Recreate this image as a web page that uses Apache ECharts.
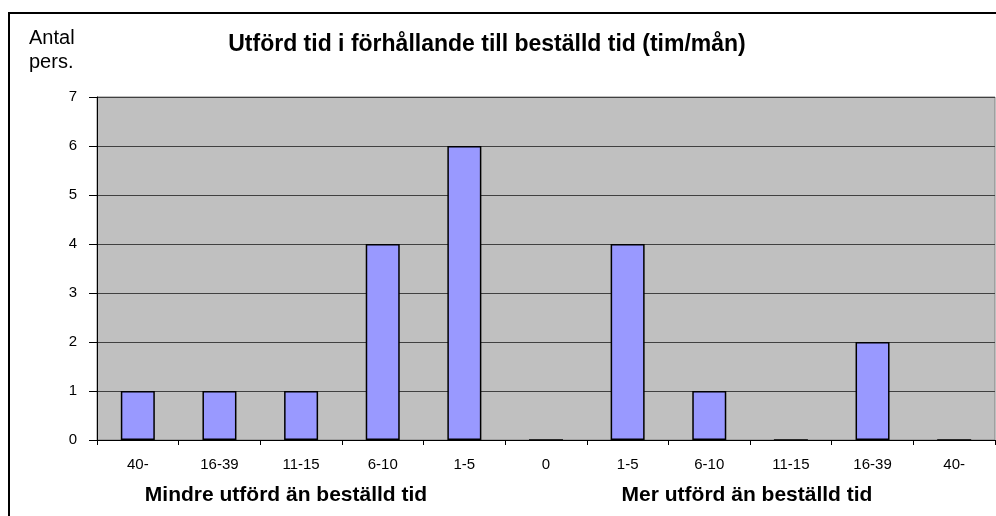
<!DOCTYPE html>
<html>
<head>
<meta charset="utf-8">
<script src="https://cdn.jsdelivr.net/npm/echarts@6/dist/echarts.min.js"></script>
<style>
  html, body { margin: 0; padding: 0; background: #fff; }
  #chart { width: 996px; height: 516px; }
</style>
</head>
<body>
<div id="chart"></div>
<script>
// kategorier (tim/mån), vänster halva = mindre, höger halva = mer
const categories = ['40-', '16-39', '11-15', '6-10', '1-5', '0', '1-5', '6-10', '11-15', '16-39', '40-']
const antalPers = [1, 1, 1, 4, 6, 0, 4, 1, 0, 2, 0]
const yTicks = [0, 1, 2, 3, 4, 5, 6, 7]

const chart = echarts.init(document.getElementById('chart'))

const font = 'Arial, "Liberation Sans", sans-serif'

const option = {
  animation: false,
  backgroundColor: '#fff',
  grid: {
    left: 97,
    top: 97,
    right: 1,
    bottom: 76,
    show: true,
    backgroundColor: '#c0c0c0',
    borderColor: '#808080',
    borderWidth: 1
  },
  graphic: [
    // ytterram
    {
      type: 'rect',
      shape: { x: 9, y: 13, width: 1100, height: 600 },
      style: { fill: 'none', stroke: '#000', lineWidth: 2 },
      silent: true
    },
    {
      type: 'text',
      x: 487,
      y: 45,
      style: {
        text: 'Utförd tid i förhållande till beställd tid (tim/mån)',
        fontFamily: font, fontSize: 23, fontWeight: 'bold', fill: '#000',
        align: 'center', verticalAlign: 'middle'
      }
    },
    {
      type: 'text',
      x: 29,
      y: 38,
      style: { text: 'Antal', fontFamily: font, fontSize: 20, fill: '#000', verticalAlign: 'middle' }
    },
    {
      type: 'text',
      x: 29,
      y: 62,
      style: { text: 'pers.', fontFamily: font, fontSize: 20, fill: '#000', verticalAlign: 'middle' }
    },
    {
      type: 'text',
      x: 286,
      y: 495,
      style: {
        text: 'Mindre utförd än beställd tid',
        fontFamily: font, fontSize: 21, fontWeight: 'bold', fill: '#000',
        align: 'center', verticalAlign: 'middle'
      }
    },
    {
      type: 'text',
      x: 747,
      y: 495,
      style: {
        text: 'Mer utförd än beställd tid',
        fontFamily: font, fontSize: 21, fontWeight: 'bold', fill: '#000',
        align: 'center', verticalAlign: 'middle'
      }
    }
  ],
  xAxis: {
    type: 'category',
    data: categories,
    boundaryGap: true,
    axisLine: { show: true, lineStyle: { color: '#000', width: 1 } },
    axisTick: { show: true, alignWithLabel: false, length: 5, lineStyle: { color: '#000' } },
    axisLabel: {
      interval: 0,
      margin: 17,
      fontFamily: font,
      fontSize: 15,
      color: '#000',
      formatter: (v, i) => categories[i]
    },
    splitLine: { show: false }
  },
  yAxis: {
    type: 'value',
    min: yTicks[0],
    max: yTicks[yTicks.length - 1],
    interval: 1,
    axisLine: { show: true, lineStyle: { color: '#000', width: 1 } },
    axisTick: { show: true, inside: false, length: 8, lineStyle: { color: '#000' } },
    axisLabel: { margin: 20, fontFamily: font, fontSize: 15, color: '#000' },
    splitLine: { show: true, lineStyle: { color: '#404040', width: 1 } }
  },
  series: [
    {
      type: 'bar',
      data: antalPers,
      barWidth: 34,
      itemStyle: { color: '#9999ff', borderColor: '#000', borderWidth: 1.5 }
    }
  ]
}

chart.setOption(option)
</script>
</body>
</html>
